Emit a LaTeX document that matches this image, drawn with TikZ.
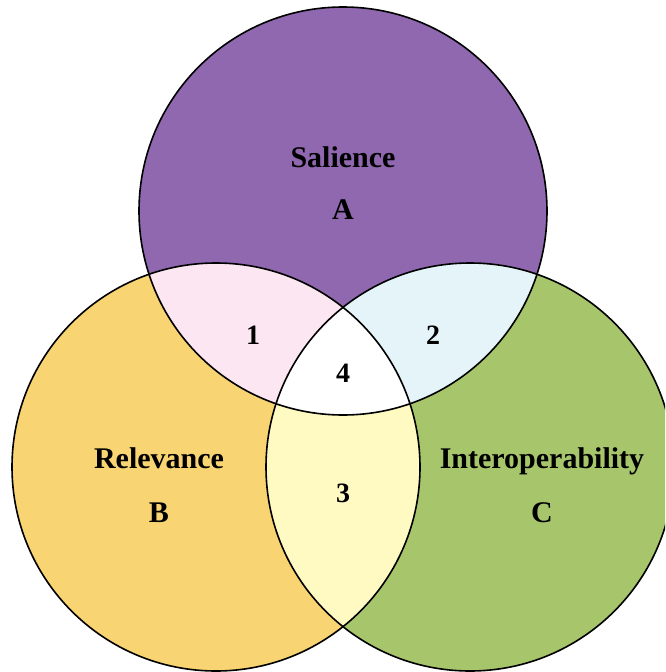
\documentclass[tikz,border=0pt]{standalone}
\usepackage{fontspec}
\setmainfont{Liberation Serif}
\usepackage[dvipsnames]{xcolor}
\usepackage{tikz}
\usetikzlibrary{shapes,arrows}

\definecolor{salpurple}{HTML}{8F68AF}
\definecolor{relyellow}{HTML}{F9D473}
\definecolor{intgreen}{HTML}{A7C66C}
\definecolor{onepink}{HTML}{FCE6F1}
\definecolor{twoblue}{HTML}{E5F4F9}
\definecolor{threeyellow}{HTML}{FFFAC2}

\tikzset{
    lab/.style = {font=\bfseries\fontsize{30}{31}\selectfont, anchor=base},
    num/.style = {font=\bfseries\fontsize{28}{29}\selectfont, anchor=base},
}

\begin{document}
\begin{tikzpicture}[x=1pt, y=-1pt]
        \useasboundingbox (0,0) rectangle (665,672);
        \clip (0,0) rectangle (665,672);
        \coordinate (cA) at (343,211);
        \coordinate (cB) at (216,467);
        \coordinate (cC) at (470,467);
        % circles
        \fill[salpurple] (cA) circle (204);
        \fill[relyellow] (cB) circle (204);
        \fill[intgreen] (cC) circle (204);
        % overlaps
        \begin{scope}
            \clip (cA) circle (204);
            \fill[onepink] (cB) circle (204);
            \fill[twoblue] (cC) circle (204);
        \end{scope}
        \begin{scope}
            \clip (cB) circle (204);
            \fill[threeyellow] (cC) circle (204);
            \clip (cA) circle (204);
            \fill[white] (cC) circle (204);
        \end{scope}
        \draw[line width=1.6pt] (cA) circle (204);
        \draw[line width=1.6pt] (cB) circle (204);
        \draw[line width=1.6pt] (cC) circle (204);
        
        \node[lab] (sal) at (343,167) {Salience};
        \node[lab] (a) at (343,219) {A};
        \node[lab] (rel) at (159,468) {Relevance};
        \node[lab] (b) at (159,522) {B};
        \node[lab] (inter) at (542,468) {Interoperability};
        \node[lab] (c) at (542,522) {C};
        \node[num] (one) at (253,344) {1};
        \node[num] (two) at (433,344) {2};
        \node[num] (four) at (343,382) {4};
        \node[num] (three) at (343,502) {3};
        
    \end{tikzpicture}
\end{document}
